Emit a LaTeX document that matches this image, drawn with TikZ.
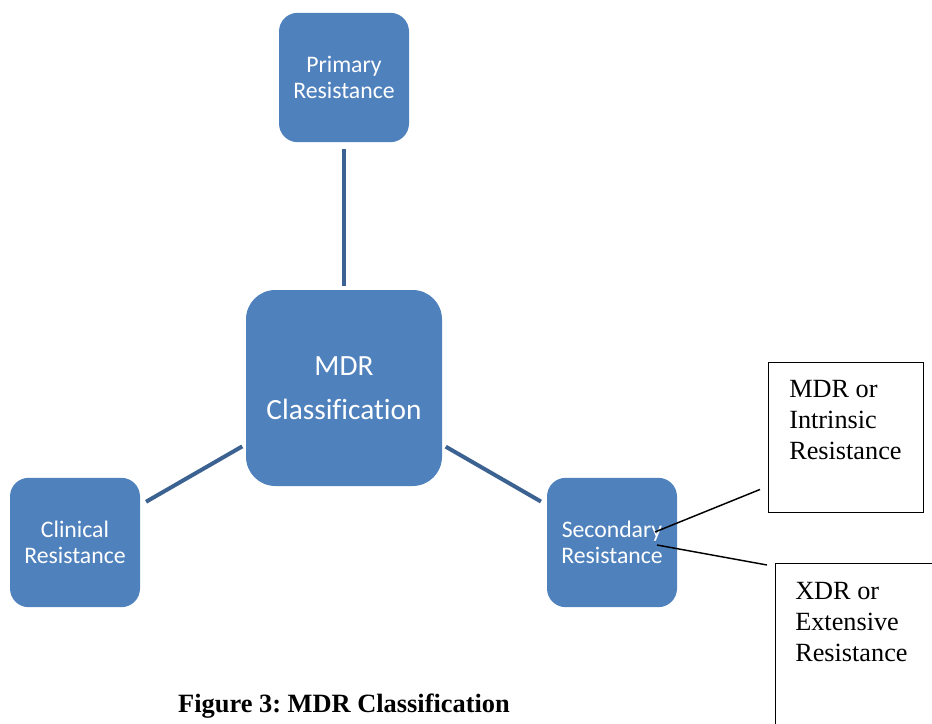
\documentclass[tikz,border=0pt]{standalone}
\usepackage{fontspec}
\setmainfont{Liberation Serif}
\newfontfamily\boxfont[Ligatures=NoCommon]{Carlito}
\definecolor{boxblue}{RGB}{79,129,189}
\definecolor{linkblue}{RGB}{60,98,146}
\frenchspacing

\tikzset{
  blockbox/.style={rectangle, rounded corners=14pt, fill=boxblue, text=white,
    font=\boxfont\fontsize{17.8}{19.5}\selectfont, align=center,
    minimum width=97.5pt, minimum height=97pt, inner sep=0pt},
  hubbox/.style={blockbox, rounded corners=22pt, minimum width=147pt,
    minimum height=147pt, font=\boxfont\fontsize{22}{33}\selectfont},
  link/.style={draw=linkblue, line width=3pt, shorten <=3pt, shorten >=5pt},
  memo/.style={draw, line width=1.1pt, anchor=north west, inner sep=0pt},
  memotext/.style={anchor=north west, inner sep=0pt, align=left,
    font=\fontsize{19.7}{23.2}\selectfont},
  pointer/.style={line width=1.1pt}
}

\begin{document}
\begin{tikzpicture}[x=0.75pt, y=-0.75pt]

   \useasboundingbox (0,0) rectangle (932,724);
   \clip (0,0) rectangle (932,724);

   \node [hubbox] (mdr) at (344,388) {MDR\\Classification};

   \foreach \x/\y/\n/\t in {344/77.5/prim/{Primary\\Resistance},
                            75/542.5/clin/{Clinical\\Resistance},
                            612/542.5/sec/{Secondary\\Resistance}}
     \node [blockbox] (\n) at (\x,\y) {\t};

   \foreach \j in {prim, clin, sec}
     \draw (mdr) edge[link] (\j);

   % side notes on secondary resistance
   \node [memo, minimum width=116pt, minimum height=112.5pt] (intr) at (768,362) {};
   \node [memotext] (intrtext) at ([shift={(21,18)}]intr.north west)
     {MDR or\\Intrinsic\\Resistance};
   \node [memo, minimum width=130pt, minimum height=130pt] (xdr) at (775,563) {};
   \node [memotext] (xdrtext) at ([shift={(20,19)}]xdr.north west)
     {XDR or\\Extensive\\Resistance};

   \coordinate (s1) at (655,532);
   \coordinate (s2) at (657,545);
   \draw [pointer] (s1) -- ([shift={(-8,-24)}]intr.south west);
   \draw [pointer] (s2) -- ([shift={(-8,2)}]xdr.north west);

   \node [font=\bfseries\fontsize{19.8}{22}\selectfont] (caption) at (344,706)
     {Figure 3: MDR Classification};

\end{tikzpicture}
\end{document}
